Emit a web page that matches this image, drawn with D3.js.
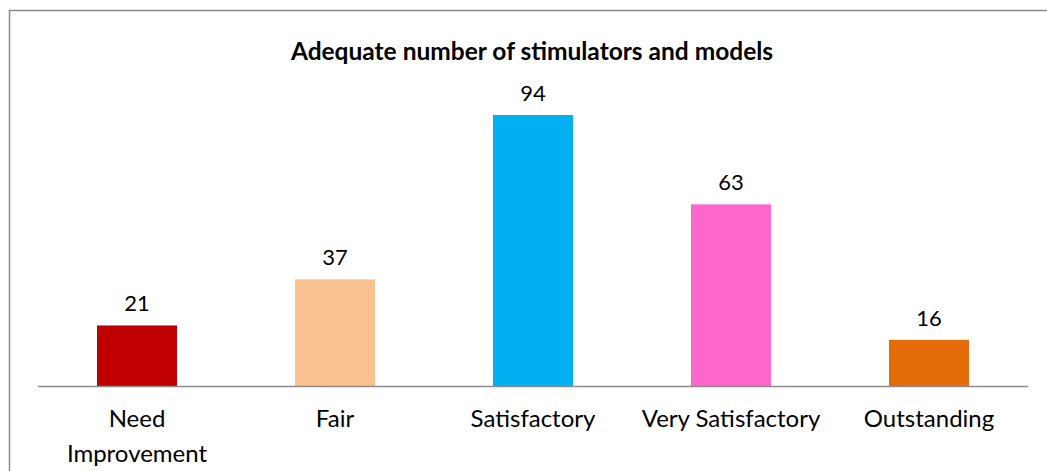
<!DOCTYPE html>
<html>
<head>
<meta charset="utf-8">
<script src="https://cdn.jsdelivr.net/npm/d3@7"></script>
<style>
  body { margin: 0; background: #fff; }
  text { font-family: Lato, "Open Sans", sans-serif; fill: #000; }
</style>
</head>
<body>
<div id="chart"></div>
<script>
const categories = ["Need Improvement", "Fair", "Satisfactory", "Very Satisfactory", "Outstanding"];
const values = [21, 37, 94, 63, 16];
const colors = ["#C00000", "#F9C290", "#00B0F0", "#FF66CC", "#E46C0A"];
const labelLines = [["Need", "Improvement"], ["Fair"], ["Satisfactory"], ["Very Satisfactory"], ["Outstanding"]];

const W = 1047, H = 471;
const svg = d3.select("#chart").append("svg")
  .attr("width", W)
  .attr("height", H);

// chart frame
svg.append("rect")
  .attr("x", 9.5).attr("y", 10.5)
  .attr("width", W).attr("height", H)
  .attr("fill", "none")
  .attr("stroke", "#8c8c8c")
  .attr("stroke-width", 1.5);

const baseY = 386;
const x = d3.scaleBand()
  .domain(categories)
  .range([38, 1028])
  .paddingInner(0.596)
  .paddingOuter(0.298);

const y = d3.scaleLinear()
  .domain([0, 94])
  .range([baseY, 115]);

svg.append("text")
  .attr("x", 532)
  .attr("y", 60)
  .attr("text-anchor", "middle")
  .attr("font-size", 24.5)
  .attr("font-weight", "bold")
  .text("Adequate number of stimulators and models");

const data = categories.map((c, i) => ({ c, v: values[i], color: colors[i], lines: labelLines[i] }));

svg.selectAll("rect.bar")
  .data(data)
  .enter().append("rect")
  .attr("class", "bar")
  .attr("x", d => x(d.c))
  .attr("y", d => y(d.v))
  .attr("width", x.bandwidth())
  .attr("height", d => baseY - y(d.v))
  .attr("fill", d => d.color);

svg.selectAll("text.val")
  .data(data)
  .enter().append("text")
  .attr("class", "val")
  .attr("x", d => x(d.c) + x.bandwidth() / 2)
  .attr("y", d => y(d.v) - 14)
  .attr("text-anchor", "middle")
  .attr("font-size", 22)
  .text(d => d.v);

// baseline
svg.append("line")
  .attr("x1", 38).attr("x2", 1028)
  .attr("y1", baseY + 0.5).attr("y2", baseY + 0.5)
  .attr("stroke", "#8c8c8c")
  .attr("stroke-width", 1.5);

const labels = svg.selectAll("text.cat")
  .data(data)
  .enter().append("text")
  .attr("class", "cat")
  .attr("text-anchor", "middle")
  .attr("font-size", 24);

labels.selectAll("tspan")
  .data(d => d.lines.map(l => ({ l, cx: x(d.c) + x.bandwidth() / 2 })))
  .enter().append("tspan")
  .attr("x", d => d.cx)
  .attr("y", (d, i) => 427 + i * 35)
  .text(d => d.l);
</script>
</body>
</html>
